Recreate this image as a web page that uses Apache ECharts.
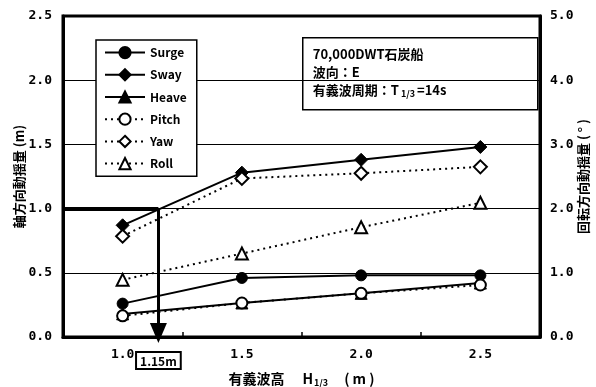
<!DOCTYPE html>
<html>
<head>
<meta charset="utf-8">
<script src="https://cdn.jsdelivr.net/npm/echarts@6/dist/echarts.min.js"></script>
<style>
  html, body { margin: 0; padding: 0; background: #fff; }
  #chart { width: 596px; height: 387px; }
</style>
</head>
<body>
<div id="chart"></div>
<script>
// Significant wave height H1/3 (m)
const waveHeights = [1.0, 1.5, 2.0, 2.5];
// Translational motions (m), left axis
const surge = [0.26, 0.46, 0.48, 0.48];
const sway = [0.87, 1.28, 1.38, 1.48];
const heave = [0.18, 0.265, 0.34, 0.42];
// Rotational motions (deg), right axis
const pitch = [0.33, 0.53, 0.68, 0.81];
const yaw = [1.57, 2.47, 2.55, 2.65];
const roll = [0.89, 1.30, 1.71, 2.09];
// Allowable sway 1.0 m reached at H1/3 = 1.15 m
const limitMotion = 1.0;
const limitHeight = 1.15;
const xTickLabels = [1.0, 1.5, 2.0, 2.5];
const xMinorTicks = [1.25, 1.75, 2.25];

const FONT = '"Noto Sans CJK JP", "DejaVu Sans", sans-serif';
const NUM_FONT = '"DejaVu Sans Mono", monospace';

function pairs(ys) { return waveHeights.map((x, i) => [x, ys[i]]); }

function lineSeries(name, ys, axis, symbol, filled, dotted) {
  return {
    name: name,
    type: 'line',
    yAxisIndex: axis,
    data: pairs(ys),
    symbol: symbol,
    symbolSize: symbol === 'triangle' ? 12 : (symbol === 'diamond' ? 13 : 11),
    showAllSymbol: true,
    lineStyle: { color: '#000', width: 2, type: dotted ? [2, 4] : 'solid' },
    itemStyle: filled
      ? { color: '#000', borderColor: '#000', borderWidth: 1 }
      : { color: '#fff', borderColor: '#000', borderWidth: 2 },
    emphasis: { disabled: true }
  };
}

const chart = echarts.init(document.getElementById('chart'), null, { renderer: 'canvas' });

chart.setOption({
  animation: false,
  backgroundColor: '#fff',
  grid: {
    left: 63, right: 56, top: 16, bottom: 50,
    containLabel: false,
    outerBoundsMode: 'none',
    show: true, borderColor: '#000', borderWidth: 3
  },
  legend: {
    data: ['Surge', 'Sway', 'Heave', 'Pitch', 'Yaw', 'Roll'],
    orient: 'vertical',
    left: 96, top: 40,
    itemWidth: 40, itemHeight: 14, itemGap: 9,
    padding: [6, 10, 6, 8],
    backgroundColor: '#fff',
    borderColor: '#000', borderWidth: 1.5,
    textStyle: { color: '#000', fontSize: 12, fontWeight: 'bold', fontFamily: FONT },
    selectedMode: false
  },
  xAxis: {
    type: 'value',
    min: 0.75, max: 2.75,
    name: '{a|有義波高}{h|H}{sub|1/3}{m|( m )}',
    nameLocation: 'middle',
    nameGap: 33,
    nameMoveOverlap: false,
    nameTextStyle: {
      color: '#000', fontSize: 14, fontWeight: 'bold', fontFamily: FONT,
      rich: {
        a: { fontSize: 14, fontWeight: 'bold', fontFamily: FONT },
        h: { fontSize: 14, fontWeight: 'bold', fontFamily: FONT, padding: [0, 0, 0, 18] },
        sub: { fontSize: 9, fontWeight: 'bold', fontFamily: FONT, padding: [8, 0, 0, 1] },
        m: { fontSize: 14, fontWeight: 'bold', fontFamily: FONT, padding: [0, 0, 0, 16] }
      }
    },
    axisLine: { show: true, lineStyle: { color: '#000', width: 3 } },
    axisTick: { show: true, inside: true, length: 5, customValues: xMinorTicks, lineStyle: { color: '#000', width: 1.5 } },
    axisLabel: {
      customValues: xTickLabels, margin: 11,
      color: '#000', fontSize: 13, fontWeight: 'bold', fontFamily: NUM_FONT,
      formatter: v => v.toFixed(1)
    },
    splitLine: { show: false }
  },
  yAxis: [
    {
      type: 'value', position: 'left',
      min: 0, max: 2.5, interval: 0.5,
      name: '軸方向動揺量 (m)',
      nameLocation: 'middle', nameRotate: 90, nameGap: 37,
      nameMoveOverlap: false,
      nameTextStyle: { color: '#000', fontSize: 13, fontWeight: 'bold', fontFamily: FONT },
      axisLine: { show: true, lineStyle: { color: '#000', width: 3 } },
      axisTick: { show: false },
      axisLabel: { color: '#000', fontSize: 13, fontWeight: 'bold', fontFamily: NUM_FONT, margin: 11, formatter: v => v.toFixed(1) },
      splitLine: { show: true, lineStyle: { color: '#000', width: 1 } }
    },
    {
      type: 'value', position: 'right',
      min: 0, max: 5, interval: 1,
      name: '回転方向動揺量 ( ° )',
      nameLocation: 'middle', nameRotate: 90, nameGap: 37,
      nameMoveOverlap: false,
      nameTextStyle: { color: '#000', fontSize: 13, fontWeight: 'bold', fontFamily: FONT },
      axisLine: { show: true, lineStyle: { color: '#000', width: 3 } },
      axisTick: { show: false },
      axisLabel: { color: '#000', fontSize: 13, fontWeight: 'bold', fontFamily: NUM_FONT, margin: 10, formatter: v => v.toFixed(1) },
      splitLine: { show: false }
    }
  ],
  series: [
    lineSeries('Surge', surge, 0, 'circle', true, false),
    lineSeries('Sway', sway, 0, 'diamond', true, false),
    lineSeries('Heave', heave, 0, 'triangle', true, false),
    lineSeries('Pitch', pitch, 1, 'circle', false, true),
    lineSeries('Yaw', yaw, 1, 'diamond', false, true),
    lineSeries('Roll', roll, 1, 'triangle', false, true),
    {
      // reading guide: allowable motion -> wave height, arrow and boxed value
      name: 'limit',
      type: 'line',
      yAxisIndex: 0,
      clip: false,
      z: 5,
      data: [],
      markPoint: {
        silent: true,
        animation: false,
        data: [
          {
            coord: [limitHeight, 0],
            symbol: 'triangle', symbolRotate: 180, symbolSize: [17, 20], symbolOffset: [0, -4],
            itemStyle: { color: '#000' },
            label: { show: false }
          },
          {
            coord: [limitHeight, 0],
            symbol: 'rect', symbolSize: 0,
            label: {
              show: true, position: 'bottom', distance: 16,
              formatter: limitHeight.toFixed(2) + 'm',
              color: '#000', fontSize: 12, fontWeight: 'bold', fontFamily: FONT,
              backgroundColor: '#fff', borderColor: '#000', borderWidth: 2,
              padding: [2, 3, 1, 3]
            }
          }
        ]
      },
      markLine: {
        silent: true,
        animation: false,
        symbol: 'none',
        label: { show: false },
        data: [
          [
            { coord: [0.75, limitMotion], lineStyle: { color: '#000', width: 4, type: 'solid' } },
            { coord: [limitHeight, limitMotion] }
          ],
          [
            { coord: [limitHeight, limitMotion], lineStyle: { color: '#000', width: 3, type: 'solid' } },
            { coord: [limitHeight, 0] }
          ]
        ]
      }
    }
  ],
  graphic: [
    {
      type: 'group', left: 302, top: 37, z: 50,
      children: [
        {
          type: 'rect',
          shape: { x: 0, y: 0, width: 235, height: 72 },
          style: { fill: '#fff', stroke: '#000', lineWidth: 1.5 }
        },
        {
          type: 'text',
          x: 10, y: 7,
          style: {
            text: '70,000DWT石炭船\n波向：E\n有義波周期：T{sub|1/3}=14s',
            fill: '#000',
            font: 'bold 13px ' + FONT,
            lineHeight: 18,
            rich: { sub: { fontSize: 9, fontWeight: 'bold', fontFamily: FONT, padding: [8, 2, 0, 2] } }
          }
        }
      ]
    }
  ]
});
</script>
</body>
</html>
